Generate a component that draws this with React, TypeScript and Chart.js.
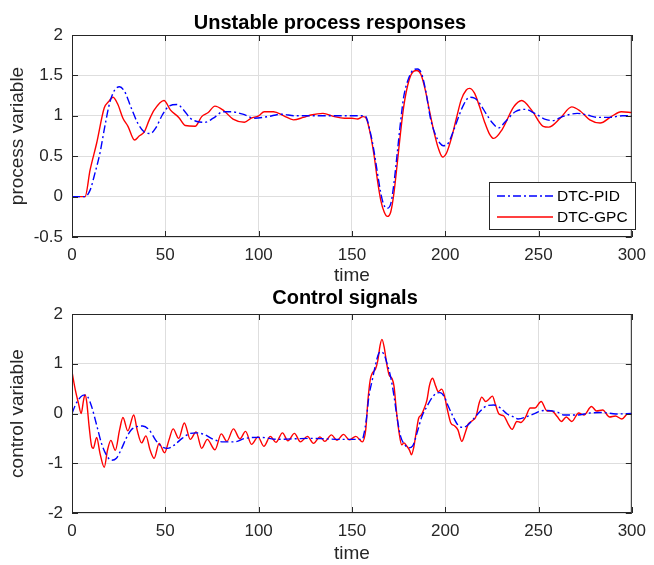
import { useEffect, useRef } from "react";
import { Chart, registerables } from "chart.js";
Chart.register(...registerables);

const FONT = "'Liberation Sans', Arial, Helvetica, sans-serif";
const AX = "#262626";

const timeTicks = [0, 50, 100, 150, 200, 250, 300];
const processTicks = [-0.5, 0, 0.5, 1, 1.5, 2];
const controlTicks = [-2, -1, 0, 1, 2];
const seriesNames = ["DTC-PID", "DTC-GPC"];

// [time, value]
const pidProcess: [number, number][] = [
  [0, 0], [7, 0], [9.7, 0.08], [12.3, 0.29], [15, 0.54], [17.6, 0.87], [20.2, 1.16], [22.9, 1.32], [25.5, 1.36],
  [28.2, 1.3], [31.7, 1.1], [35.2, 0.91], [38.7, 0.8], [41.9, 0.78], [44.9, 0.85], [48.4, 1.01], [52, 1.12],
  [56.3, 1.14], [59.9, 1.07], [63.4, 0.97], [66.9, 0.93], [71.3, 0.92], [75.7, 0.97], [81, 1.05], [85.4, 1.05],
  [91.5, 1.02], [97.7, 0.97], [105, 0.99], [112, 1.02], [120, 1.0], [130, 1.0], [140, 1.0], [150, 1.0], [157, 1.0],
  [160.2, 0.76], [162, 0.54], [163.7, 0.29], [165.5, 0.04], [166.9, -0.09], [168.7, -0.145], [170.8, -0.09],
  [172.5, 0.16], [174.3, 0.54], [176, 0.91], [177.8, 1.24], [180.5, 1.47], [183, 1.57], [185.2, 1.58], [187.5, 1.51],
  [189.8, 1.28], [191.9, 0.99], [194.5, 0.78], [197.2, 0.66], [198.9, 0.63], [201.6, 0.66], [204.2, 0.8],
  [206.9, 0.97], [209.5, 1.12], [213, 1.23], [215.7, 1.22], [218.3, 1.16], [221.8, 1.03], [225.4, 0.91],
  [228.5, 0.85], [232.3, 0.93], [237.5, 1.05], [242.8, 1.08], [248, 1.03], [253.3, 0.96], [257.7, 0.94],
  [262.8, 0.99], [270.7, 1.03], [276, 1.01], [282, 0.98], [288, 0.98], [295, 1.0], [300, 1.0],
];

const gpcProcess: [number, number][] = [
  [0, 0], [7, 0], [9.7, 0.33], [13.2, 0.66], [17.3, 1.1], [19.4, 1.17], [22, 1.23], [24.6, 1.14], [27.3, 0.97],
  [30, 0.87], [33.5, 0.7], [36, 0.75], [38.7, 0.8], [41.4, 0.95], [44, 1.07], [49.3, 1.19], [52.8, 1.07],
  [57.2, 0.98], [60.7, 0.88], [66, 0.87], [69.5, 0.99], [73, 1.04], [76.6, 1.12], [81, 1.07], [86.3, 0.96],
  [92.4, 0.92], [96, 0.97], [100, 1.0], [103, 1.05], [108, 1.05], [113.5, 1.0], [118.7, 0.95], [124, 0.98],
  [128, 1.01], [134.5, 1.03], [140.6, 0.99], [146, 0.97], [150, 0.97], [153, 0.96], [156, 0.99], [157.6, 0.97],
  [160.2, 0.74], [162, 0.49], [163.7, 0.2], [165.5, -0.05], [167.3, -0.19], [169, -0.245], [170.8, -0.19],
  [172.5, 0.04], [174.3, 0.41], [176, 0.78], [177.8, 1.12], [180.5, 1.43], [183, 1.55], [184.9, 1.56], [187, 1.51],
  [189.3, 1.32], [191.5, 1.07], [193.7, 0.83], [196.3, 0.6], [198.6, 0.49], [200.7, 0.54], [203.3, 0.72],
  [206, 0.97], [208.6, 1.2], [211.3, 1.32], [213, 1.34], [215.7, 1.28], [218.3, 1.12], [221, 0.93], [223.6, 0.78],
  [226, 0.72], [230.5, 0.83], [236.7, 1.11], [241, 1.19], [246.3, 1.07], [252.5, 0.87], [255.5, 0.86],
  [261.6, 0.97], [267.8, 1.11], [272.3, 1.06], [277.5, 0.95], [283, 0.91], [289, 0.99], [294.3, 1.05], [300, 1.04],
];

const pidControl: [number, number][] = [
  [0, 0], [1.8, 0.17], [3.9, 0.3], [6.2, 0.37], [8.5, 0.33], [10.6, 0.13], [13.2, -0.23], [15.8, -0.6],
  [18.5, -0.84], [21.1, -0.94], [23.8, -0.9], [26.4, -0.72], [29, -0.5], [31.7, -0.33], [34.3, -0.27],
  [37.9, -0.25], [41.4, -0.33], [44.9, -0.54], [48.4, -0.67], [51.1, -0.7], [54.6, -0.64], [59, -0.5],
  [63.4, -0.4], [66.9, -0.39], [71.3, -0.43], [75.7, -0.52], [81, -0.57], [87, -0.57], [92.7, -0.5],
  [101.4, -0.48], [110, -0.52], [118, -0.51], [127.6, -0.5], [136, -0.51], [145, -0.52], [155.6, -0.52],
  [156.5, -0.4], [157.7, -0.13], [159.1, 0.34], [160.9, 0.67], [162.6, 0.97], [164.4, 1.21], [165.8, 1.24],
  [167.4, 1.17], [169.1, 0.97], [170.9, 0.71], [172.6, 0.34], [174.4, -0.13], [176.1, -0.46], [178.4, -0.63],
  [180.5, -0.69], [182.6, -0.65], [184.9, -0.39], [187.5, -0.06], [190.2, 0.14], [192.8, 0.31], [195.4, 0.41],
  [197.2, 0.42], [199.5, 0.34], [201.6, 0.15], [204.2, -0.06], [206.8, -0.23], [209.5, -0.28], [212.1, -0.23],
  [215.6, -0.09], [219.1, 0.06], [222.6, 0.16], [226.1, 0.17], [229.6, 0.11], [233.2, -0.01], [236.7, -0.07],
  [239, -0.11], [246, -0.03], [253, 0.06], [260, 0.03], [263.5, -0.03], [270.5, -0.03], [277.5, 0.01],
  [284.5, 0.02], [291.5, -0.01], [300, 0],
];

const gpcControl: [number, number][] = [
  [0, 0.84], [1.8, 0.47], [3.5, 0.2], [4.9, 0.0], [6.2, 0.27], [7, 0.38], [7.9, 0.23], [9.2, -0.27], [10.6, -0.67],
  [11.4, -0.7], [13.2, -0.48], [15, -0.8], [17.3, -1.08], [19, -0.74], [20.8, -0.54], [23.2, -0.74], [25.5, -0.33],
  [27.3, -0.08], [29.9, -0.35], [33.1, -0.03], [34.9, -0.33], [37.3, -0.59], [39.6, -0.45], [41.9, -0.74],
  [44, -0.9], [46.7, -0.6], [49.6, -0.79], [51.9, -0.54], [54.2, -0.31], [57.2, -0.5], [60.2, -0.19],
  [63.4, -0.52], [66.5, -0.37], [69.5, -0.7], [72.5, -0.52], [76.6, -0.73], [80, -0.41], [83, -0.56],
  [86.5, -0.31], [90, -0.51], [93, -0.36], [96.2, -0.62], [99.7, -0.47], [102.8, -0.66], [106.3, -0.46],
  [109.3, -0.58], [112.8, -0.39], [115.7, -0.55], [119.2, -0.4], [122.4, -0.57], [126.2, -0.46], [129.4, -0.6],
  [132.9, -0.47], [135.5, -0.56], [139, -0.43], [142, -0.54], [145.5, -0.42], [148.6, -0.53], [152.1, -0.46],
  [155.6, -0.57], [157.4, -0.33], [158.6, 0.27], [159.8, 0.67], [160.9, 0.81], [162.6, 0.89], [163.9, 1.07],
  [165.1, 1.37], [166.1, 1.49], [167.4, 1.31], [168.6, 1.01], [170, 0.77], [171.4, 0.71], [172.6, 0.54],
  [173.8, 0.07], [175.3, -0.39], [176.7, -0.63], [177.9, -0.59], [179.3, -0.65], [180.9, -0.74], [181.9, -0.83],
  [183.1, -0.69], [184.4, -0.39], [185.8, -0.09], [187.2, -0.03], [188.4, 0.07], [190.2, 0.27], [191.6, 0.57],
  [193.2, 0.71], [194.9, 0.55], [196.3, 0.44], [198.1, 0.49], [199.5, 0.37], [201.2, 0.07], [203, -0.19],
  [205.1, -0.25], [206.8, -0.33], [208.9, -0.56], [210.7, -0.39], [212.4, -0.21], [214.7, -0.14], [216.5, -0.06],
  [218.2, 0.21], [219.6, 0.33], [221.7, 0.24], [223.5, 0.29], [225.3, 0.35], [227, 0.17], [228.8, -0.01],
  [231.4, -0.05], [234, -0.23], [235.8, -0.32], [238.4, -0.16], [240.5, -0.18], [242.8, -0.09], [245.6, 0.11],
  [248, 0.11], [251.4, 0.24], [254.6, 0.05], [257, 0.05], [260, -0.06], [262.2, -0.16], [264.9, -0.07],
  [267.8, -0.16], [271.5, 0.01], [274.3, -0.03], [278.4, 0.14], [281.1, 0.05], [284.4, 0.07], [288.1, -0.07],
  [291.2, -0.05], [294.7, -0.11], [297.8, -0.01], [300, -0.01],
];

const PID_DASH = [8, 3, 2, 3];

type PanelCfg = {
  title: string;
  titleX: number; // canvas coords
  titleY: number; // baseline, canvas coords
  yLabel: string;
  yTicks: number[];
  pid: [number, number][];
  gpc: [number, number][];
  legend: boolean;
  height: number;
  padTop: number;
  padBottom: number;
  xHeight: number;
};

function matlabPlugin(cfg: PanelCfg) {
  return {
    id: "matlabDecor",
    afterDraw(chart: any) {
      const ctx = chart.ctx as CanvasRenderingContext2D;
      const a = chart.chartArea;
      const xs = chart.scales.x;
      const ys = chart.scales.y;
      ctx.save();
      // box
      ctx.strokeStyle = AX;
      ctx.lineWidth = 1;
      ctx.setLineDash([]);
      ctx.strokeRect(a.left + 0.5, a.top + 0.5, a.right - a.left - 1, a.bottom - a.top - 1);
      // inward ticks
      const tl = 6;
      ctx.beginPath();
      timeTicks.forEach((t) => {
        const px = Math.round(xs.getPixelForValue(t)) + 0.5;
        ctx.moveTo(px, a.bottom);
        ctx.lineTo(px, a.bottom - tl);
        ctx.moveTo(px, a.top);
        ctx.lineTo(px, a.top + tl);
      });
      cfg.yTicks.forEach((v) => {
        const py = Math.round(ys.getPixelForValue(v)) + 0.5;
        ctx.moveTo(a.left, py);
        ctx.lineTo(a.left + tl, py);
        ctx.moveTo(a.right, py);
        ctx.lineTo(a.right - tl, py);
      });
      ctx.stroke();
      // title
      ctx.fillStyle = "#000";
      ctx.font = `bold 20px ${FONT}`;
      ctx.textAlign = "center";
      ctx.textBaseline = "alphabetic";
      ctx.fillText(cfg.title, cfg.titleX, cfg.titleY);
      // legend
      if (cfg.legend) {
        const lx = 489, ly = 182, lw = 146, lh = 47;
        ctx.fillStyle = "#fff";
        ctx.fillRect(lx, ly, lw, lh);
        ctx.strokeStyle = AX;
        ctx.lineWidth = 1;
        ctx.strokeRect(lx + 0.5, ly + 0.5, lw, lh);
        const rows = [
          { name: seriesNames[0], color: "#0000ff", dash: PID_DASH, y: 196 },
          { name: seriesNames[1], color: "#ff0000", dash: [] as number[], y: 217 },
        ];
        rows.forEach((r) => {
          ctx.strokeStyle = r.color;
          ctx.lineWidth = 1.4;
          ctx.setLineDash(r.dash);
          ctx.beginPath();
          ctx.moveTo(497, r.y);
          ctx.lineTo(553, r.y);
          ctx.stroke();
          ctx.setLineDash([]);
          ctx.fillStyle = "#000";
          ctx.font = `15.5px ${FONT}`;
          ctx.textAlign = "left";
          ctx.textBaseline = "middle";
          ctx.fillText(r.name, 557, r.y + 1);
        });
      }
      ctx.restore();
    },
  };
}

function Panel({ cfg, top }: { cfg: PanelCfg; top: number }) {
  const ref = useRef<HTMLCanvasElement | null>(null);
  useEffect(() => {
    if (!ref.current) return;
    const chart = new Chart(ref.current, {
      type: "line",
      data: {
        datasets: [
          {
            label: seriesNames[0],
            data: cfg.pid.map(([x, y]) => ({ x, y })),
            borderColor: "#0000ff",
            borderWidth: 1.4,
            borderDash: PID_DASH,
            pointRadius: 0,
            cubicInterpolationMode: "monotone",
            fill: false,
          },
          {
            label: seriesNames[1],
            data: cfg.gpc.map(([x, y]) => ({ x, y })),
            borderColor: "#ff0000",
            borderWidth: 1.4,
            pointRadius: 0,
            cubicInterpolationMode: "monotone",
            fill: false,
          },
        ],
      },
      options: {
        animation: false,
        responsive: false,
        events: [],
        layout: { padding: { left: 0, right: 12, top: cfg.padTop, bottom: cfg.padBottom } },
        plugins: { legend: { display: false }, tooltip: { enabled: false }, title: { display: false } },
        scales: {
          x: {
            type: "linear",
            min: 0,
            max: 300,
            afterBuildTicks: (s: any) => {
              s.ticks = timeTicks.map((v) => ({ value: v }));
            },
            afterFit: (s: any) => {
              s.height = cfg.xHeight;
            },
            grid: { color: "#dedede", lineWidth: 1, drawTicks: false },
            border: { display: false },
            ticks: { color: AX, font: { family: FONT, size: 17 }, padding: 8, maxRotation: 0 },
            title: {
              display: true,
              text: "time",
              color: AX,
              font: { family: FONT, size: 19 },
              padding: { top: 0, bottom: 0 },
            },
          },
          y: {
            type: "linear",
            min: cfg.yTicks[0],
            max: cfg.yTicks[cfg.yTicks.length - 1],
            afterBuildTicks: (s: any) => {
              s.ticks = cfg.yTicks.map((v) => ({ value: v }));
            },
            afterFit: (s: any) => {
              s.width = 72;
            },
            grid: { color: "#dedede", lineWidth: 1, drawTicks: false },
            border: { display: false },
            ticks: {
              color: AX,
              font: { family: FONT, size: 17 },
              padding: 9,
              callback: (v: any) => String(v),
            },
            title: {
              display: true,
              text: cfg.yLabel,
              color: AX,
              font: { family: FONT, size: 19 },
              padding: { top: 6, bottom: 0 },
            },
          },
        },
      },
      plugins: [matlabPlugin(cfg)],
    } as any);
    return () => chart.destroy();
  }, [cfg]);
  return (
    <canvas
      ref={ref}
      width={654}
      height={cfg.height}
      style={{ position: "absolute", left: 0, top, width: 654, height: cfg.height }}
    />
  );
}

const topCfg: PanelCfg = {
  title: "Unstable process responses",
  titleX: 330,
  titleY: 29,
  yLabel: "process variable",
  yTicks: processTicks,
  pid: pidProcess,
  gpc: gpcProcess,
  legend: true,
  height: 292,
  padTop: 35,
  padBottom: 5,
  xHeight: 50,
};

const bottomCfg: PanelCfg = {
  title: "Control signals",
  titleX: 345,
  titleY: 24,
  yLabel: "control variable",
  yTicks: controlTicks,
  pid: pidControl,
  gpc: gpcControl,
  legend: false,
  height: 285,
  padTop: 34,
  padBottom: 0,
  xHeight: 52,
};

export default function App() {
  return (
    <div style={{ position: "fixed", left: 0, top: 0, width: 654, height: 565, background: "#fff" }}>
      <Panel cfg={topCfg} top={0} />
      <Panel cfg={bottomCfg} top={280} />
    </div>
  );
}
